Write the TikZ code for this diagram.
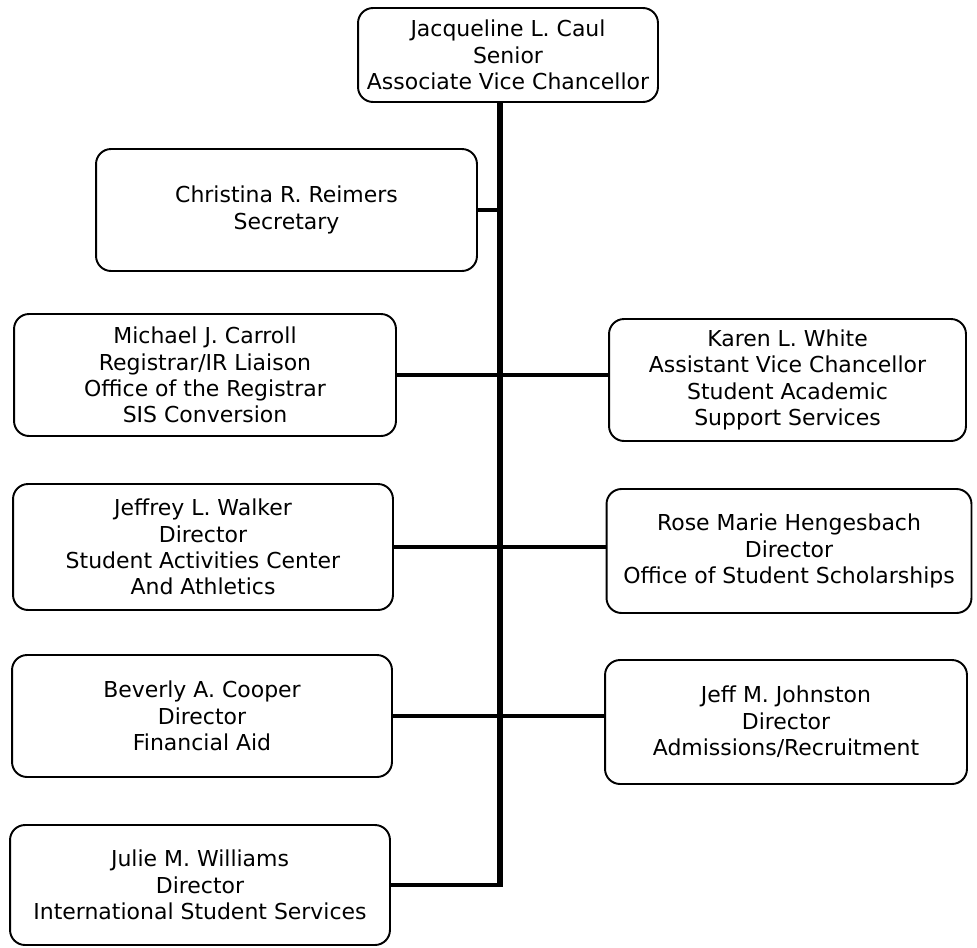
\documentclass[tikz,border=0pt]{standalone}
\usepackage{fontspec}
\setmainfont{DejaVu Sans}
\usetikzlibrary{positioning}

\tikzset{
  orgbox/.style={draw, line width=1.1pt, rounded corners=0.3cm, align=center,
    inner sep=0pt, font=\fontsize{12.5}{15}\selectfont},
  trunkline/.style={line width=3.4pt},
  link/.style={line width=2.8pt}
}

\begin{document}
\begin{tikzpicture}[x=0.02cm,y=-0.02cm]
  \useasboundingbox (0,0) rectangle (977,947);

  %head of the office
  \node[orgbox, minimum width=6cm, minimum height=1.88cm] (caul) at (508,55)
    {Jacqueline L. Caul\\Senior\\Associate Vice Chancellor};
  \node[orgbox, minimum width=7.62cm, minimum height=2.44cm] (reimers) at (286.5,210)
    {Christina R. Reimers\\Secretary};

  %left column
  \node[orgbox, minimum width=7.64cm, minimum height=2.44cm] (carroll) at (205,375)
    {Michael J. Carroll\\Registrar/IR Liaison\\Office of the Registrar\\SIS Conversion};
  \node[orgbox, minimum width=7.6cm, minimum height=2.52cm] (walker) at (203,547)
    {Jeffrey L. Walker\\Director\\Student Activities Center\\And Athletics};
  \node[orgbox, minimum width=7.6cm, minimum height=2.44cm] (cooper) at (202,716)
    {Beverly A. Cooper\\Director\\Financial Aid};
  \node[orgbox, minimum width=7.6cm, minimum height=2.4cm] (williams) at (200,885)
    {Julie M. Williams\\Director\\International Student Services};

  %right column
  \node[orgbox, minimum width=7.14cm, minimum height=2.44cm] (white) at (787.5,380)
    {Karen L. White\\Assistant Vice Chancellor\\Student Academic\\Support Services};
  \node[orgbox, minimum width=7.3cm, minimum height=2.48cm] (hengesbach) at (789,551)
    {Rose Marie Hengesbach\\Director\\Office of Student Scholarships};
  \node[orgbox, minimum width=7.24cm, minimum height=2.48cm] (johnston) at (786,722)
    {Jeff M. Johnston\\Director\\Admissions/Recruitment};

  %vertical trunk
  \coordinate (trunk) at (500,0);
  \draw[trunkline] (caul.south -| trunk) -- (williams.east -| trunk);
  \draw[link] (williams.east) -- ([xshift=1.7pt]williams.east -| trunk);
  \draw[link] (reimers.east) -- (reimers.east -| trunk);

  %crossing links
  \draw[link] (carroll.east) -- (carroll.east -| white.west);
  \draw[link] (walker.east) -- (walker.east -| hengesbach.west);
  \draw[link] (cooper.east) -- (cooper.east -| johnston.west);
\end{tikzpicture}
\end{document}
